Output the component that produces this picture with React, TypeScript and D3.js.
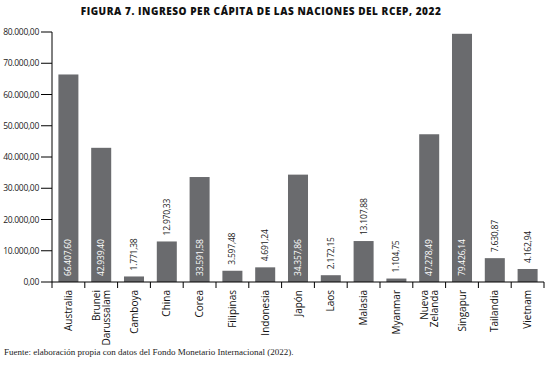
import React from "react";
import * as d3 from "d3";

const title = "FIGURA 7. INGRESO PER CÁPITA DE LAS NACIONES DEL RCEP, 2022";
const source = "Fuente: elaboración propia con datos del Fondo Monetario Internacional (2022).";
const categories: string[][] = [
  ["Australia"], ["Brunei", "Darussalam"], ["Camboya"], ["China"], ["Corea"],
  ["Filipinas"], ["Indonesia"], ["Japón"], ["Laos"], ["Malasia"], ["Myanmar"],
  ["Nueva", "Zelanda"], ["Singapur"], ["Tailandia"], ["Vietnam"],
];
const values = [66407.6, 42939.4, 1771.38, 12970.33, 33591.58, 3597.48, 4691.24, 34357.86, 2172.15, 13107.88, 1104.75, 47278.49, 79426.14, 7630.87, 4162.94];
const yTicks = [0, 10000, 20000, 30000, 40000, 50000, 60000, 70000, 80000];

const fmt = (v: number) => {
  const s = v.toFixed(2).split(".");
  const int = s[0].replace(/\B(?=(\d{3})+(?!\d))/g, ".");
  return int + "," + s[1];
};

export default function App() {
  const W = 550, H = 365;
  const x0 = 52, x1 = 544, yTop = 32, yBase = 282;
  const idx = categories.map((_, i) => String(i));
  const x = d3.scaleBand<string>().domain(idx).range([x0, x1]).paddingInner(0).paddingOuter(0);
  const y = d3.scaleLinear().domain([0, 80000]).range([yBase, yTop]);
  const step = x.step();
  const bw = step * 0.61;
  const font = "'Open Sans', sans-serif";
  return (
    <svg width={W} height={H} style={{ position: "absolute", left: 0, top: 0, background: "#fff" }}>
      <text x={261} y={15} textAnchor="middle" fontFamily={font} fontWeight="800" fontSize={10} letterSpacing={0.55} fill="#111">{title}</text>
      {/* y axis */}
      <line x1={x0} x2={x0} y1={yTop} y2={yBase} stroke="#000" strokeWidth={1} />
      {yTicks.map((t) => (
        <g key={t}>
          <line x1={x0 - 11} x2={x0} y1={y(t)} y2={y(t)} stroke="#000" strokeWidth={1} />
          <text x={39} y={y(t) + 3} textAnchor="end" fontFamily={font} fontSize={8.5} fill="#222" letterSpacing={-0.3}>{fmt(t)}</text>
        </g>
      ))}
      {/* bars */}
      {values.map((v, i) => {
        const cx = (x(String(i)) as number) + step / 2;
        const top = y(v);
        const inside = v > 20000;
        return (
          <g key={i}>
            <rect x={cx - bw / 2} y={top} width={bw} height={yBase - top} fill="#6a6b6e" />
            {inside ? (
              <text transform={`translate(${cx + 3},${yBase - 6}) rotate(-90)`} fontFamily={font} fontSize={8.5} fill="#ffffff" letterSpacing={-0.2}>{fmt(v)}</text>
            ) : (
              <text transform={`translate(${cx + 3},${top - 6}) rotate(-90)`} fontFamily={font} fontSize={8.5} fill="#222" letterSpacing={-0.2}>{fmt(v)}</text>
            )}
          </g>
        );
      })}
      {/* x axis */}
      <line x1={x0} x2={x1} y1={yBase} y2={yBase} stroke="#000" strokeWidth={1} />
      {idx.map((d) => (
        <line key={d} x1={(x(d) as number) + step} x2={(x(d) as number) + step} y1={yBase} y2={yBase + 6} stroke="#000" strokeWidth={1} />
      ))}
      <line x1={x0} x2={x0} y1={yBase} y2={yBase + 6} stroke="#000" strokeWidth={1} />
      {categories.map((lines, i) => {
        const cx = (x(String(i)) as number) + step / 2;
        const n = lines.length;
        return lines.map((ln, j) => {
          const off = (j - (n - 1) / 2) * 10;
          return (
            <text key={i + "-" + j} transform={`translate(${cx + 3.5 + off},${yBase + 8}) rotate(-90)`} textAnchor="end" fontFamily={font} fontSize={10} fill="#111">{ln}</text>
          );
        });
      })}
      <text x={4} y={355} fontFamily="'Liberation Serif', serif" fontSize={9} fill="#222">{source}</text>
    </svg>
  );
}
